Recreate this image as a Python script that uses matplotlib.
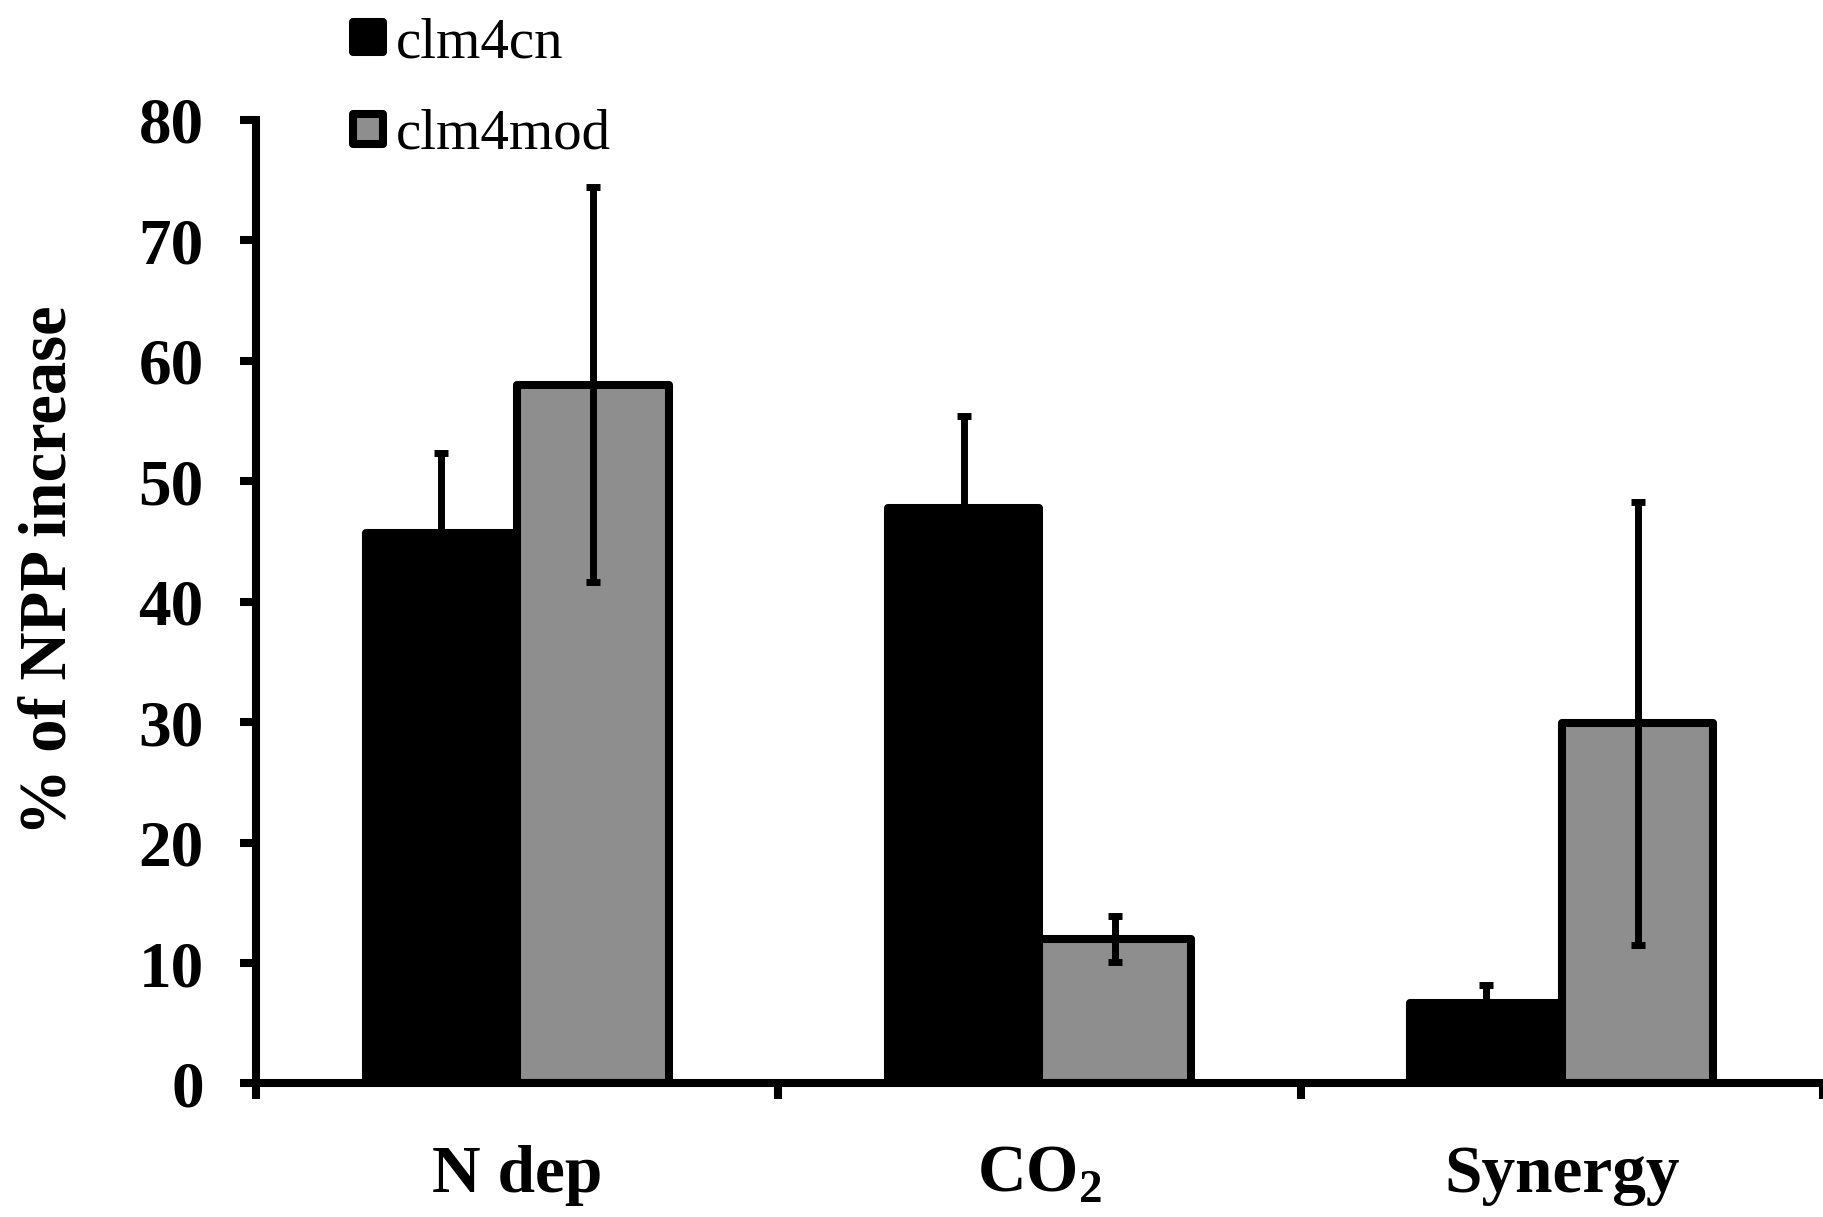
import numpy as np
import matplotlib
matplotlib.use("Agg")
from matplotlib import pyplot as plt
from matplotlib.lines import Line2D
from matplotlib.markers import MarkerStyle

plt.rcParams['font.family'] = ['Liberation Serif', 'DejaVu Serif']
plt.rcParams['mathtext.fontset'] = 'custom'
plt.rcParams['mathtext.rm'] = 'Liberation Serif:bold'
plt.rcParams['mathtext.bf'] = 'Liberation Serif:bold'

categories = ['N dep', r'CO$_{2}$', 'Synergy']
series = ['clm4cn', 'clm4mod']
clm4cn = [45.7, 47.8, 6.7]
clm4cn_err = [6.6, 7.6, 1.5]
clm4mod = [58.0, 12.0, 29.9]
clm4mod_err = [16.4, 1.9, 18.4]
yticks = [0, 10, 20, 30, 40, 50, 60, 70, 80]

grey = '#8e8e8e'
lw = 5.8

fig = plt.figure(figsize=(18.23, 12.17), dpi=100)
ax = fig.add_axes([0.1404, 0.1097, 0.8596, 0.7919])

x = np.arange(len(categories)) + 0.5
w = 0.29

ax.bar(x - w / 2, clm4cn, w, color='black', edgecolor='black',
       linewidth=lw, joinstyle='round', zorder=2)
ax.bar(x + w / 2, clm4mod, w, color=grey, edgecolor='black',
       linewidth=lw, joinstyle='round', zorder=2)
ax.errorbar(x - w / 2, clm4cn, yerr=clm4cn_err, fmt='none', ecolor='black',
            elinewidth=5, capsize=4.7, capthick=5, zorder=3)
ax.errorbar(x + w / 2, clm4mod, yerr=clm4mod_err, fmt='none', ecolor='black',
            elinewidth=5, capsize=4.7, capthick=5, zorder=3)

ax.set_xlim(0, 3)
ax.set_ylim(0, 80)
ax.set_yticks(yticks)
ax.set_yticklabels([str(v) for v in yticks], fontsize=47, fontweight='bold')
ax.tick_params(axis='y', direction='out', length=11.5, width=lw, pad=26)

ax.set_xticks([0, 1, 2, 3])
ax.set_xticklabels([])
ax.tick_params(axis='x', which='major', direction='out', length=11.5, width=lw)
ax.set_xticks(x, minor=True)
ax.set_xticklabels(categories, minor=True, fontsize=48.5, fontweight='bold')
ax.tick_params(axis='x', which='minor', length=0, pad=44)

for s in ['top', 'right']:
    ax.spines[s].set_visible(False)
for s in ['left', 'bottom']:
    ax.spines[s].set_linewidth(lw)
ax.spines['bottom'].set_capstyle('projecting')

fig.text(49 / 1823, 1 - 570 / 1217, '% of NPP increase', rotation=90,
         ha='center', va='center', fontsize=48, fontweight='bold')

handles = [
    Line2D([], [], linestyle='none', marker=MarkerStyle('s', joinstyle='round'),
           markersize=22, markerfacecolor='black', markeredgecolor='black',
           markeredgewidth=lw),
    Line2D([], [], linestyle='none', marker=MarkerStyle('s', joinstyle='round'),
           markersize=22, markerfacecolor=grey, markeredgecolor='black',
           markeredgewidth=lw),
]
ax.legend(handles, series, loc='upper left', bbox_to_anchor=(351 / 1823, 0.986),
          bbox_transform=fig.transFigure, frameon=False, fontsize=41,
          handlelength=0.6, handletextpad=0.18, labelspacing=0.7,
          borderpad=0.0, borderaxespad=0.0)

fig.savefig('out.png', dpi=100)
